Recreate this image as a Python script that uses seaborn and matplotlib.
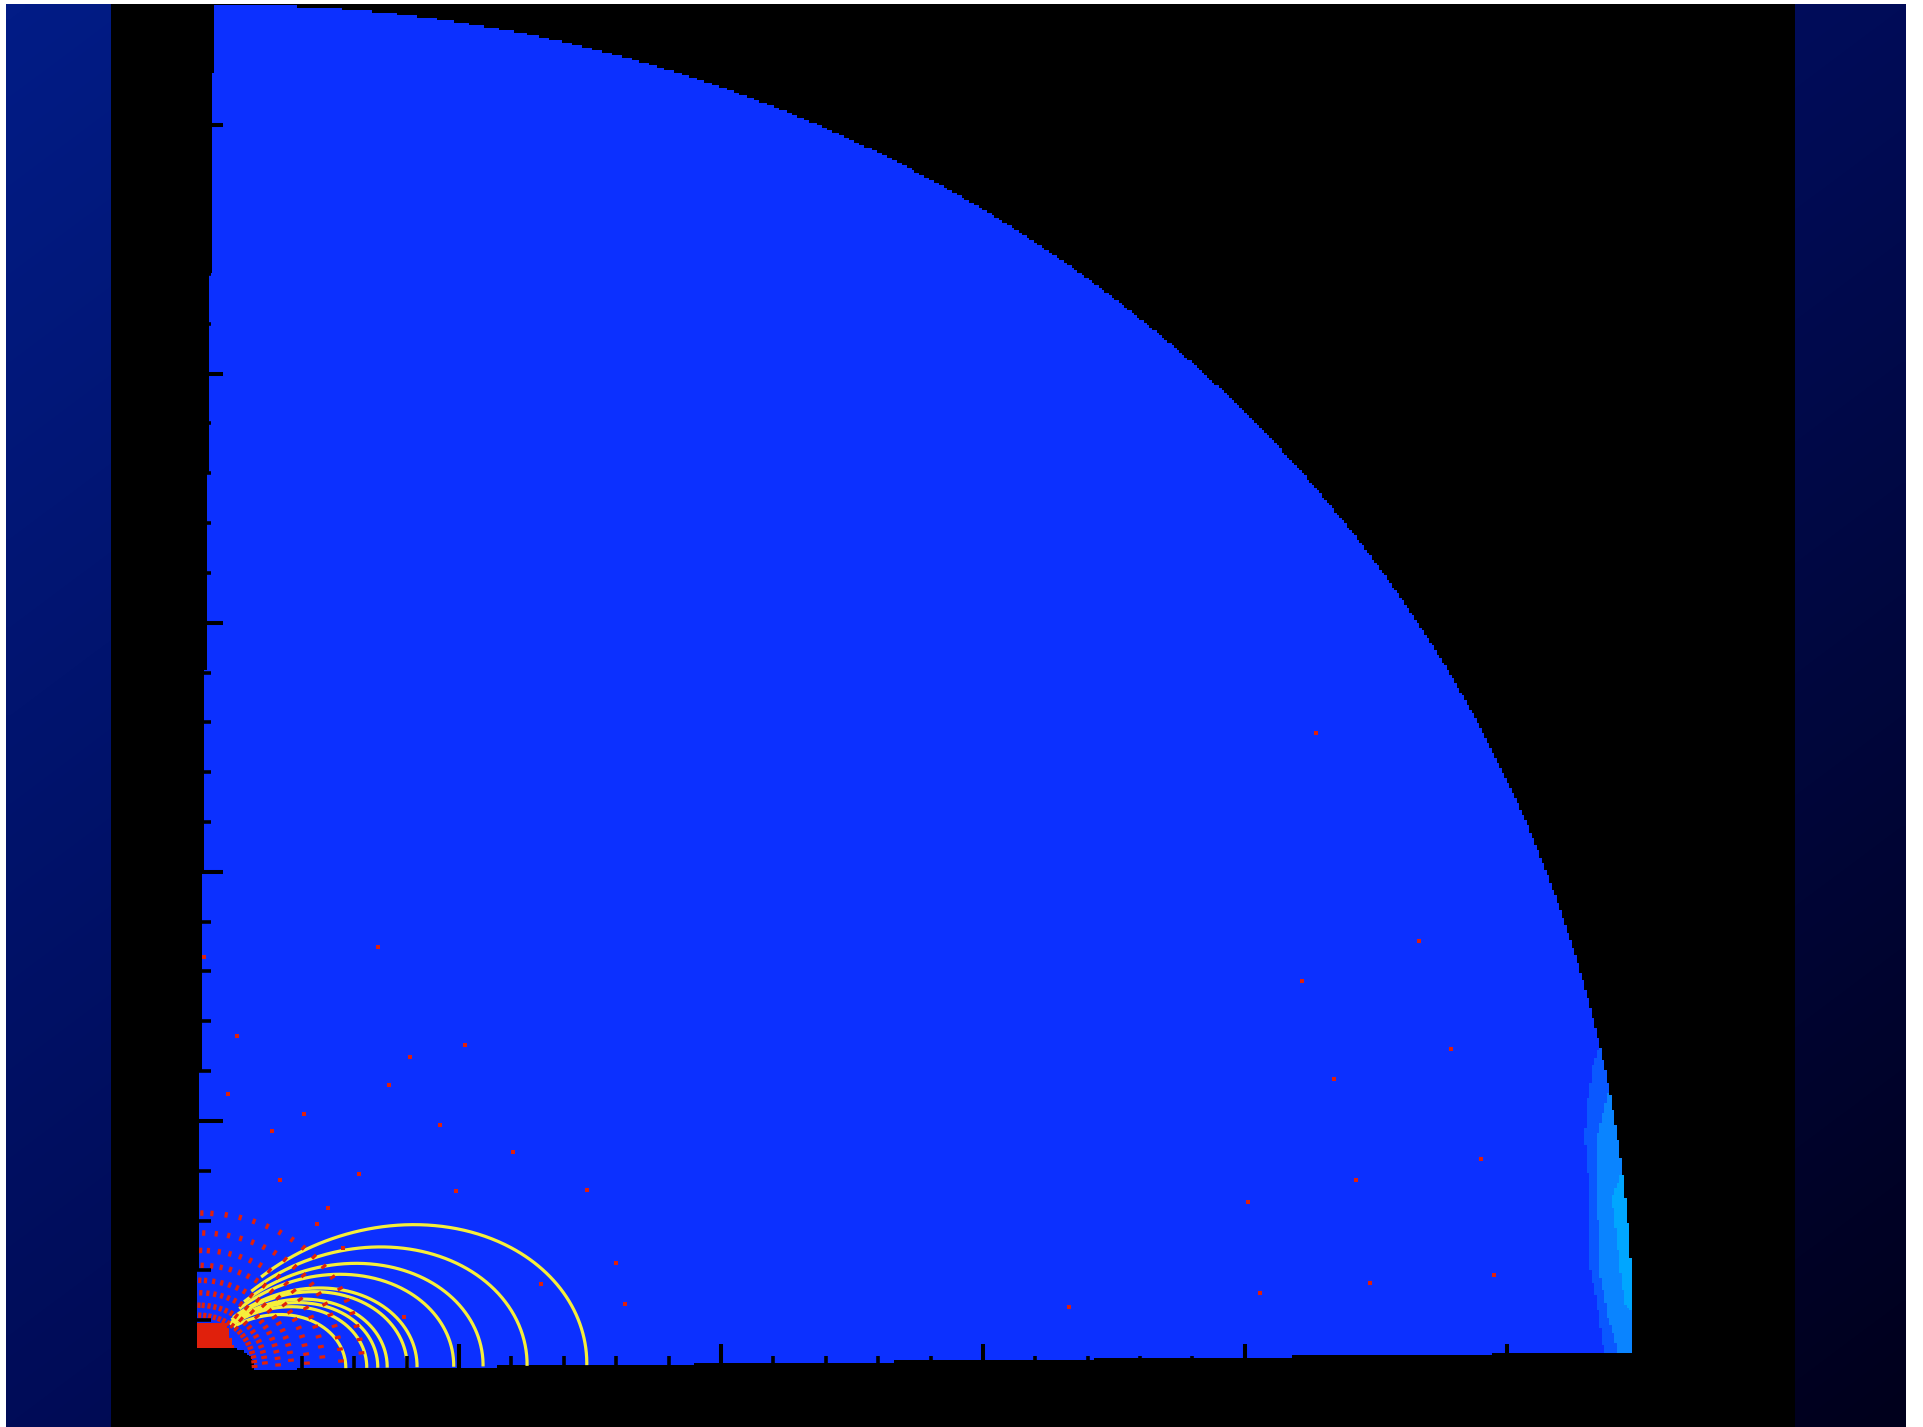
import numpy as np
import matplotlib
matplotlib.use("Agg")
import matplotlib.pyplot as plt
import matplotlib.transforms as mtransforms
from matplotlib.colors import ListedColormap, LinearSegmentedColormap
from matplotlib.collections import LineCollection
import seaborn as sns

sns.set_theme(style="white")
plt.rcParams["font.family"] = ["DejaVu Sans"]

# ---------------------------------------------------------------- data
# simulation domain: quarter disc of outer radius R_OUTER (grid units)
R_OUTER = 27.4
# slight shear of the simulation frame relative to the plot axes
SKEW_A = 0.0119   # x offset per unit of v
SKEW_B = 0.0132   # y offset per unit of u

# boundary-layer bands near the outer edge: polar angle (deg) -> inner radius
band1_phi = [0.0, 1.6, 3.7, 6.5, 9.3, 10.9, 12.3, 13.2]
band1_r = [26.85, 26.75, 26.62, 26.72, 26.78, 26.97, 27.2, 27.45]
band2_phi = [0.0, 1.6, 3.7, 6.5, 9.3, 10.9, 11.3]
band2_r = [27.12, 26.92, 26.78, 26.86, 27.03, 27.35, 27.45]
band3_phi = [1.5, 2.0, 3.7, 6.5, 7.0, 7.8]
band3_r = [27.45, 27.25, 27.18, 27.14, 27.24, 27.45]

# dipole field lines: equatorial crossing distance of each line
field_line_L = [2.84, 3.24, 3.45, 3.63, 4.01, 4.20, 4.90, 5.46, 6.30, 7.44]
# lines are traced from this colatitude (deg) but no closer than FIELD_LINE_R0
FIELD_LINE_COLAT0 = 33.0
FIELD_LINE_R0 = 1.1

# inner body extents
BODY_U, BODY_V = 1.12, 0.47
CORE_U, CORE_V = 0.70, 0.95

# flow vectors near the inner body (polar sample rings, staggered)
cluster_r = [1.1, 1.3, 1.55, 1.8, 2.1, 2.4, 2.75, 3.15]
cluster_phi = [3, 8, 13, 18, 23, 28, 33, 38, 43, 48, 53, 58, 63, 68, 73,
               78, 83, 88]
cluster_stagger = [0.0, 2.5]

# isolated flow vectors further out (x, y)
sparse_x = [21.36, 3.45, 23.32, 21.09, 23.93, 21.70, 5.11, 4.06, 3.66, 0.76,
            0.59, 2.04, 1.43, 4.64, 6.03, 24.50, 22.12, 20.06, 3.09, 1.58,
            4.94, 7.44, 24.75, 20.29, 22.39, 16.64, 8.00, 8.17, 0.13, 6.56,
            3.95, 2.50, 2.29, 2.79]
sparse_y = [12.79, 8.49, 8.61, 7.81, 6.45, 5.84, 6.53, 6.29, 5.72, 6.71,
            5.54, 5.14, 4.80, 4.92, 4.38, 4.24, 3.82, 3.37, 3.94, 3.82,
            3.59, 3.61, 1.91, 1.55, 1.75, 1.27, 2.15, 1.33, 8.29, 1.73,
            1.06, 3.25, 2.93, 2.45]

major_ticks = [5, 10, 15, 20, 25]
minor_ticks = [t for t in range(1, 28) if t % 5]

# ---------------------------------------------------------------- styling
BLUE = "#0c30ff"
BAND_COLORS = ["#0a58ff", "#0a84ff", "#00a6ff"]
RED = "#e0200c"
YELLOW = "#f7ef3a"

W, H = 1923, 1427
fig = plt.figure(figsize=(W / 100, H / 100), dpi=100, facecolor="white")

# backdrop: diagonal navy gradient with a black centre panel
bg = fig.add_axes([6 / W, 0, 1900 / W, 1423 / H])
gx, gy = np.meshgrid(np.linspace(0, 1, 240), np.linspace(0, 1, 180))
bg_cmap = LinearSegmentedColormap.from_list(
    "backdrop", ["#021c86", "#000c58", "#00001c"])
bg.imshow(0.5 * gx + 0.5 * gy, cmap=bg_cmap, extent=(6, 1906, 1427, 4),
          aspect="auto", interpolation="bilinear", vmin=0, vmax=1)
bg.axvspan(111, 1795, color="black", lw=0)
bg.set_xlim(6, 1906)
bg.set_ylim(1427, 4)
bg.axis("off")

# main plot
ax = fig.add_axes([197 / W, 57 / H, 1467 / W, 1370 / H])
ax.set_facecolor("none")
XMAX, YMAX = 28.0, 27.5

skew = mtransforms.Affine2D(np.array([[1.0, SKEW_A, 0.0],
                                      [SKEW_B, 1.0, 0.0],
                                      [0.0, 0.0, 1.0]]))

# scalar field on a display-aligned grid
nx, ny = 587, 548
xc = (np.arange(nx) + 0.5) * XMAX / nx
yc = (np.arange(ny) + 0.5) * YMAX / ny
X, Y = np.meshgrid(xc, yc)
det = 1.0 - SKEW_A * SKEW_B
U = (X - SKEW_A * Y) / det
V = (Y - SKEW_B * X) / det
Rr = np.hypot(U, V)
PHI = np.degrees(np.arctan2(V, U))


def in_band(phi_pts, r_pts):
    lo, hi = phi_pts[0], phi_pts[-1]
    rin = np.interp(PHI, phi_pts, r_pts)
    return (PHI >= lo) & (PHI <= hi) & (Rr >= rin)


level = np.zeros_like(X)
level = np.where(in_band(band1_phi, band1_r), 1, level)
level = np.where(in_band(band2_phi, band2_r), 2, level)
level = np.where(in_band(band3_phi, band3_r), 3, level)
core = (U < CORE_U - 0.3 * np.clip(V - 0.45, 0, None)) & (V < CORE_V)
level = np.where(core, 4, level)
body = (U / BODY_U) ** 4 + (V / BODY_V) ** 2 < 1
outside = (U < 0) | (V < 0) | (Rr > R_OUTER) | body
field = np.ma.masked_where(outside, level)

cmap = ListedColormap([BLUE] + BAND_COLORS + [RED])
ax.imshow(field, cmap=cmap, vmin=-0.5, vmax=4.5, origin="lower",
          extent=(0, XMAX, 0, YMAX), aspect="auto", interpolation="nearest",
          zorder=0)

# field lines
for L in field_line_L:
    th0 = max(np.radians(FIELD_LINE_COLAT0),
              np.arcsin(np.sqrt(min(1.0, FIELD_LINE_R0 / L))))
    th = np.linspace(th0, np.pi / 2, 300)
    r = L * np.sin(th) ** 2
    ax.plot(r * np.sin(th), r * np.cos(th), color=YELLOW, lw=2.3,
            solid_capstyle="butt", transform=skew + ax.transData, zorder=2)

# flow vectors around the inner body
segs = []
for i, rr in enumerate(cluster_r):
    off = cluster_stagger[i % len(cluster_stagger)]
    for pd_ in cluster_phi:
        p = np.radians(min(pd_ + off, 89.0))
        c, s = np.cos(p), np.sin(p)
        half = 0.055
        segs.append([(rr * c - half * c, rr * s - half * s),
                     (rr * c + half * c, rr * s + half * s)])
ax.add_collection(LineCollection(segs, colors=RED, linewidths=2.3,
                                 capstyle="butt",
                                 transform=skew + ax.transData, zorder=2.1))

# isolated vectors
sns.scatterplot(x=sparse_x, y=sparse_y, ax=ax, color=RED, marker="s", s=9,
                linewidth=0, legend=False, zorder=2.2)

ax.set_xlim(0, XMAX)
ax.set_ylim(0, YMAX)
ax.set_xticks(major_ticks)
ax.set_yticks(major_ticks)
ax.set_xticks(minor_ticks, minor=True)
ax.set_yticks(minor_ticks, minor=True)
ax.tick_params(which="major", direction="in", length=18.5, width=2.9,
               color="black", left=True, bottom=True, top=False, right=False,
               labelleft=False, labelbottom=False)
ax.tick_params(which="minor", direction="in", length=10, width=2.6,
               color="black", left=True, bottom=True, top=False, right=False)
for sp in ax.spines.values():
    sp.set_visible(False)
ax.set_axisbelow(False)
ax.grid(False)

fig.savefig("out.png", dpi=100, facecolor="white")
